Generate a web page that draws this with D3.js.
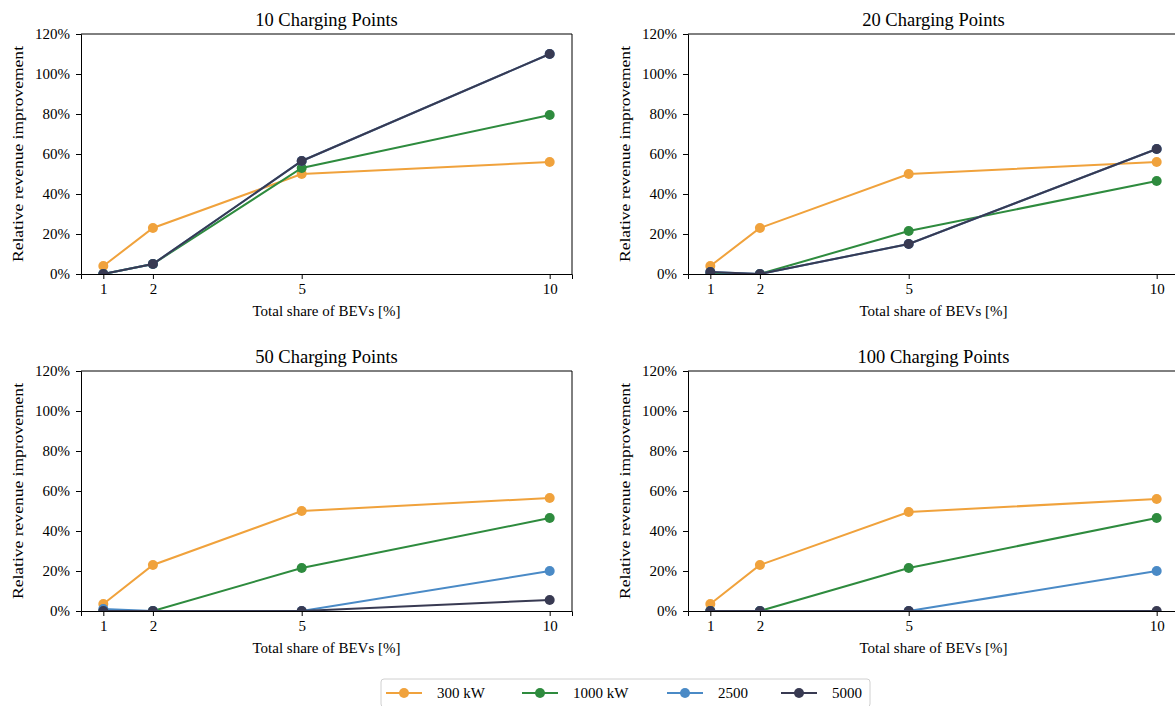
<!DOCTYPE html>
<html>
<head>
  <title>Relative revenue improvement</title>
  <script src="https://cdnjs.cloudflare.com/ajax/libs/d3/7.8.5/d3.min.js"></script>
  <style>
    body { margin: 0; background: #fff; }
    svg text { font-family: "Liberation Serif", "Times New Roman", serif; fill: #000; }
    .domain { stroke: #000; }
    .tick line { stroke: #000; }
    .tick text { font-size: 15px; font-family: "Liberation Serif", serif; }
  </style>
</head>
<body>
  <svg width="1175" height="706"></svg>
<script>
// x values and tick labels
var shares = [1, 2, 5, 10];
var yTicks = [0, 0.2, 0.4, 0.6, 0.8, 1.0, 1.2];
var panelTitles = ["10 Charging Points", "20 Charging Points", "50 Charging Points", "100 Charging Points"];
var seriesNames = ["300 kW", "1000 kW", "2500", "5000"];
var seriesColors = ["#f0a23c", "#2e8b3e", "#4a8ac6", "#383a52"];

// one row per panel (10, 20, 50, 100 charging points)
var kw300 = [
  [0.04, 0.23, 0.50, 0.56],
  [0.04, 0.23, 0.50, 0.56],
  [0.035, 0.23, 0.50, 0.565],
  [0.035, 0.23, 0.495, 0.56]
];
var kw1000 = [
  [0, 0.05, 0.53, 0.795],
  [0, 0, 0.215, 0.465],
  [0, 0, 0.215, 0.465],
  [0, 0, 0.215, 0.465]
];
var kw2500 = [
  [0, 0.05, 0.565, 1.10],
  [0.01, 0, 0.15, 0.625],
  [0.01, 0, 0, 0.20],
  [0, 0, 0, 0.20]
];
var kw5000 = [
  [0, 0.05, 0.565, 1.10],
  [0.01, 0, 0.15, 0.625],
  [0, 0, 0, 0.055],
  [0, 0, 0, 0]
];
var allSeries = [kw300, kw1000, kw2500, kw5000];

var svg = d3.select("svg");

// axes boxes of the 2x2 grid
var panelW = 491, panelH = 240;
var panelLeft = [81, 688, 81, 688];
var panelTop = [34, 34, 371, 371];

var x = d3.scaleLinear().domain([0.55, 10.45]).range([0, panelW]);
var y = d3.scaleLinear().domain([0, 1.2]).range([panelH, 0]);

var line = d3.line()
    .x(function(d, i) { return x(shares[i]); })
    .y(function(d) { return y(d); });

panelTitles.forEach(function(title, p) {
  var g = svg.append("g")
      .attr("transform", "translate(" + panelLeft[p] + "," + panelTop[p] + ")");

  g.append("defs").append("clipPath")
      .attr("id", "clip" + p)
    .append("rect")
      .attr("width", panelW)
      .attr("height", panelH);

  g.append("g")
      .attr("transform", "translate(0," + panelH + ")")
      .call(d3.axisBottom(x).tickValues(shares).tickFormat(d3.format("d")).tickSize(5).tickPadding(4));

  g.append("g")
      .call(d3.axisLeft(y).tickValues(yTicks).tickFormat(d3.format(".0%")).tickSize(5).tickPadding(6));

  // top and right spines
  g.append("path")
      .attr("d", "M0,0H" + panelW + "V" + panelH)
      .attr("fill", "none")
      .attr("stroke", "#000");

  var plot = g.append("g").attr("clip-path", "url(#clip" + p + ")");

  allSeries.forEach(function(series, s) {
    var vals = series[p];
    plot.append("path")
        .datum(vals)
        .attr("d", line)
        .attr("fill", "none")
        .attr("stroke", seriesColors[s])
        .attr("stroke-width", 2);
    plot.selectAll(".dot" + s)
        .data(vals)
      .enter().append("circle")
        .attr("cx", function(d, i) { return x(shares[i]); })
        .attr("cy", function(d) { return y(d); })
        .attr("r", 5)
        .attr("fill", seriesColors[s]);
  });

  g.append("text")
      .attr("x", panelW / 2)
      .attr("y", -8)
      .attr("text-anchor", "middle")
      .attr("font-size", 18.5)
      .text(title);

  g.append("text")
      .attr("x", panelW / 2)
      .attr("y", panelH + 42)
      .attr("text-anchor", "middle")
      .attr("font-size", 15)
      .text("Total share of BEVs [%]");

  g.append("text")
      .attr("transform", "translate(-58," + (panelH / 2) + ") rotate(-90)")
      .attr("text-anchor", "middle")
      .attr("font-size", 15.5)
      .attr("textLength", 216)
      .attr("lengthAdjust", "spacingAndGlyphs")
      .text("Relative revenue improvement");
});

// legend along the bottom, partly cut by the lower edge
var legend = svg.append("g").attr("transform", "translate(381,679)");
legend.append("rect")
    .attr("width", 489)
    .attr("height", 28)
    .attr("rx", 3)
    .attr("fill", "#fff")
    .attr("stroke", "#d0d0d0");

var itemX = [5, 141, 286, 400];
seriesNames.forEach(function(name, s) {
  var it = legend.append("g").attr("transform", "translate(" + itemX[s] + ",14)");
  it.append("line")
      .attr("x1", 0).attr("x2", 36)
      .attr("stroke", seriesColors[s])
      .attr("stroke-width", 2);
  it.append("circle")
      .attr("cx", 18)
      .attr("r", 5)
      .attr("fill", seriesColors[s]);
  it.append("text")
      .attr("x", 51)
      .attr("y", 5)
      .attr("font-size", 15)
      .text(name);
});
</script>
</body>
</html>
